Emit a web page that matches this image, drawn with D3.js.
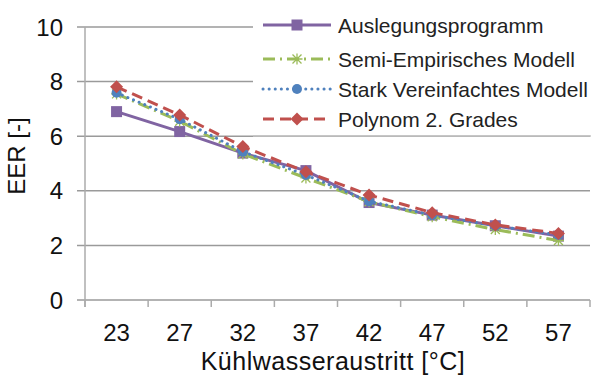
<!DOCTYPE html>
<html><head><meta charset="utf-8">
<script src="https://cdn.jsdelivr.net/npm/d3@7"></script>
<style>body{margin:0;background:#fff}svg{display:block;font-family:"Liberation Sans",Arial,sans-serif}</style>
</head><body><svg id="c" width="591" height="376"></svg>
<script>
const categories = ["23","27","32","37","42","47","52","57"];
const yTicks = [0,2,4,6,8,10];
const auslegung = [6.90,6.17,5.38,4.74,3.57,3.11,2.72,2.34];
const semiEmp   = [7.55,6.55,5.35,4.47,3.60,3.05,2.58,2.18];
const stark     = [7.59,6.62,5.43,4.58,3.62,3.11,2.72,2.38];
const polynom   = [7.81,6.78,5.62,4.70,3.85,3.20,2.75,2.44];
const seriesNames = ["Auslegungsprogramm","Semi-Empirisches Modell","Stark Vereinfachtes Modell","Polynom 2. Grades"];

const series = [
  {name:seriesNames[0], values:auslegung, color:"#8064A2", dash:null, cap:"butt", marker:"square"},
  {name:seriesNames[1], values:semiEmp,   color:"#9BBB59", dash:"12,5,2,5", cap:"butt", marker:"asterisk"},
  {name:seriesNames[2], values:stark,     color:"#4F81BD", dash:"0.1,6", cap:"round", marker:"circle"},
  {name:seriesNames[3], values:polynom,   color:"#C0504D", dash:"11,6", cap:"butt", marker:"diamond"}
];

const svg = d3.select("#c");
const L=85, R=590, T=27, B=300;
const x = d3.scaleBand().domain(categories).range([L,R]).padding(0);
const y = d3.scaleLinear().domain([0,10]).range([B,T]);
const bw = x.bandwidth();

// gridlines
svg.append("g").selectAll("line").data(yTicks).join("line")
  .attr("x1",77).attr("x2",R).attr("y1",d=>y(d)).attr("y2",d=>y(d))
  .attr("stroke","#9a9a9a").attr("stroke-width",1.5);
// y axis line
svg.append("line").attr("x1",L).attr("x2",L).attr("y1",T).attr("y2",B+7)
  .attr("stroke","#ababab").attr("stroke-width",1.5);
// x ticks at band boundaries
const bounds = categories.map(c=>x(c)).concat([R]);
svg.append("g").selectAll("line").data(bounds).join("line")
  .attr("x1",d=>d).attr("x2",d=>d).attr("y1",B).attr("y2",B+7)
  .attr("stroke","#ababab").attr("stroke-width",1.5);
// y tick labels
svg.append("g").selectAll("text").data(yTicks).join("text")
  .attr("x",63).attr("y",d=>y(d)).attr("dy","0.36em").attr("text-anchor","end")
  .attr("font-size",24).attr("fill","#111").text(d=>d);
// x tick labels
svg.append("g").selectAll("text").data(categories).join("text")
  .attr("x",d=>x(d)+bw/2).attr("y",341).attr("text-anchor","middle")
  .attr("font-size",24).attr("fill","#111").text(d=>d);
// axis titles
svg.append("text").attr("x",333).attr("y",370).attr("text-anchor","middle")
  .attr("font-size",25).attr("letter-spacing",0.5).attr("fill","#111").text("Kühlwasseraustritt [°C]");
svg.append("text").attr("transform","translate(25,156) rotate(-90)").attr("text-anchor","middle")
  .attr("font-size",24).attr("fill","#111").text("EER [-]");

function drawMarker(g, type, color){
  if(type==="square") g.append("rect").attr("x",-5.5).attr("y",-5.5).attr("width",11).attr("height",11).attr("fill",color);
  else if(type==="circle") g.append("circle").attr("r",5).attr("fill",color);
  else if(type==="diamond") g.append("path").attr("d","M0,-6.5L6.5,0L0,6.5L-6.5,0Z").attr("fill",color);
  else if(type==="asterisk") g.append("path").attr("d","M-4.5,-4.5L4.5,4.5M-4.5,4.5L4.5,-4.5M0,-5.5L0,5.5M-5.5,0L5.5,0")
    .attr("stroke",color).attr("stroke-width",1.3).attr("fill","none");
}

const line = d3.line().x((d,i)=>x(categories[i])+bw/2).y(d=>y(d));
series.forEach(s=>{
  svg.append("path").attr("d",line(s.values)).attr("fill","none").attr("stroke",s.color)
    .attr("stroke-width",3).attr("stroke-dasharray",s.dash).attr("stroke-linecap",s.cap);
  s.values.forEach((v,i)=>{
    const g = svg.append("g").attr("transform",`translate(${x(categories[i])+bw/2},${y(v)})`);
    drawMarker(g,s.marker,s.color);
  });
});

// legend
const lg = svg.append("g");
lg.append("rect").attr("x",253).attr("y",4).attr("width",340).attr("height",130.5).attr("fill","#fff");
lg.append("line").attr("x1",253).attr("x2",591).attr("y1",136).attr("y2",136).attr("stroke","#c4c4c4").attr("stroke-width",1.5);
const rowsY = [25,59,89,119];
series.forEach((s,i)=>{
  const ry = rowsY[i];
  lg.append("line").attr("x1",263).attr("x2",331).attr("y1",ry).attr("y2",ry)
    .attr("stroke",s.color).attr("stroke-width",3).attr("stroke-dasharray",s.dash).attr("stroke-linecap",s.cap);
  const g = lg.append("g").attr("transform",`translate(297,${ry})`);
  drawMarker(g,s.marker,s.color);
  lg.append("text").attr("x",338).attr("y",ry).attr("dy","0.36em").attr("font-size",21).attr("fill","#222").text(s.name);
});
</script></body></html>
